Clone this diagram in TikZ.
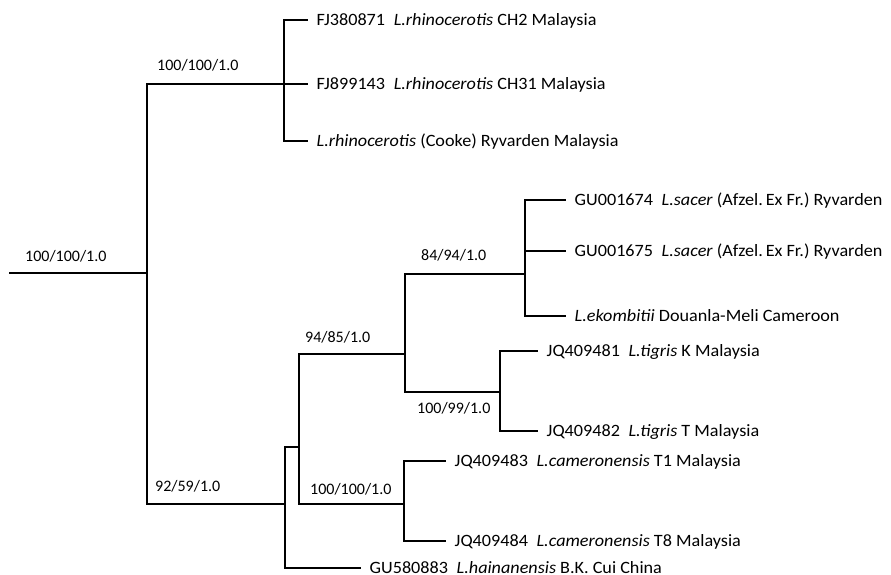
\documentclass[tikz,border=0pt]{standalone}
\usepackage{fontspec}
\setmainfont{Carlito}
\newfontfamily\leaffont[FakeStretch=1.05]{Carlito}
\frenchspacing
\begin{document}
\begin{tikzpicture}[x=1pt,y=-1pt,
  branch/.style={line width=2.7pt, line cap=rect, line join=miter},
  leaf/.style={anchor=west, inner xsep=9.5pt, inner ysep=0pt, text height=10.5pt, text depth=0pt, font=\leaffont\fontsize{17.3}{19}\selectfont},
  support/.style={anchor=base west, inner sep=0pt, font=\fontsize{16}{18}\selectfont}]
\useasboundingbox (0,0) rectangle (891,575);
\newcommand{\gapsp}{\hspace{0.5em}}
% internal nodes
\coordinate (r0) at (10,273);
\coordinate (R) at (147,273);
\coordinate (A) at (284,84);
\coordinate (B) at (285,504);
\coordinate (C) at (299,447);
\coordinate (D) at (405,354);
\coordinate (F) at (525,274);
\coordinate (G) at (500,392);
\coordinate (E) at (404,504);
% leaves
\node[leaf] (l1) at (307,20) {FJ380871\gapsp\textit{L.rhinocerotis} CH2 Malaysia};
\node[leaf] (l2) at (307,84) {FJ899143\gapsp\textit{L.rhinocerotis} CH31 Malaysia};
\node[leaf] (l3) at (307,141) {\textit{L.rhinocerotis} (Cooke) Ryvarden Malaysia};
\node[leaf] (l4) at (565,200) {GU001674\gapsp\textit{L.sacer} (Afzel.\,Ex Fr.) Ryvarden};
\node[leaf] (l5) at (565,251) {GU001675\gapsp\textit{L.sacer} (Afzel.\,Ex Fr.) Ryvarden};
\node[leaf] (l6) at (565,316) {\textit{L.ekombitii} Douanla-Meli Cameroon};
\node[leaf] (l7) at (537,351) {JQ409481\gapsp\textit{L.tigris} K Malaysia};
\node[leaf] (l8) at (537,431) {JQ409482\gapsp\textit{L.tigris} T Malaysia};
\node[leaf] (l9) at (445,461) {JQ409483\gapsp\textit{L.cameronensis} T1 Malaysia};
\node[leaf] (l10) at (445,541) {JQ409484\gapsp\textit{L.cameronensis} T8 Malaysia};
\node[leaf] (l11) at (360,568) {GU580883\gapsp\textit{L.hainanensis} B.K. Cui China};
% branches
\draw[branch] (r0) -- (R);
\draw[branch] (R) |- (A);
\draw[branch] (R) |- (B);
\draw[branch] (A) |- (l1.west);
\draw[branch] (A) |- (l2.west);
\draw[branch] (A) |- (l3.west);
\draw[branch] (B) |- (C);
\draw[branch] (B) |- (l11.west);
\draw[branch] (C) |- (D);
\draw[branch] (C) |- (E);
\draw[branch] (D) |- (F);
\draw[branch] (D) |- (G);
\draw[branch] (F) |- (l4.west);
\draw[branch] (F) |- (l5.west);
\draw[branch] (F) |- (l6.west);
\draw[branch] (G) |- (l7.west);
\draw[branch] (G) |- (l8.west);
\draw[branch] (E) |- (l9.west);
\draw[branch] (E) |- (l10.west);
% support values
\node[support] (s1) at (25,261) {100/100/1.0};
\node[support] (s2) at (157,71) {100/100/1.0};
\node[support] (s3) at (155,491) {92/59/1.0};
\node[support] (s4) at (305,342) {94/85/1.0};
\node[support] (s5) at (310,494) {100/100/1.0};
\node[support] (s6) at (421,260) {84/94/1.0};
\node[support] (s7) at (417,413) {100/99/1.0};
\end{tikzpicture}
\end{document}
